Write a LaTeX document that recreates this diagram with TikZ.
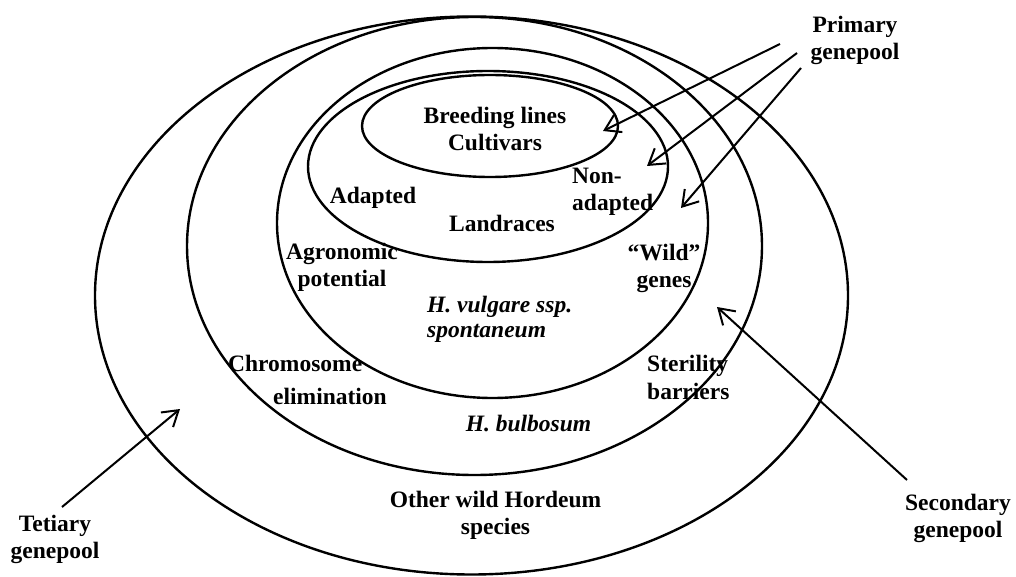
\documentclass[tikz,border=0pt]{standalone}
\usepackage{fontspec}
\setmainfont{Liberation Serif}
\usetikzlibrary{arrows.meta,shapes.geometric}
\begin{document}
\begin{tikzpicture}[x=1pt,y=-1pt,
  lbl/.style={font=\fontsize{23.5}{27}\selectfont\bfseries, inner sep=0pt, align=center},
  lbll/.style={lbl, align=left, anchor=west},
  pool/.style={draw, ellipse, inner sep=0pt, line width=2.4pt},
  arr/.style={line width=2pt, -{Straight Barb[length=15pt,width=19pt]}}]
\fill[white] (0,0) rectangle (1016,577);
\useasboundingbox (0,0) rectangle (1016,577);
% genepool ellipses
\node[pool, minimum width=753pt, minimum height=558pt] (tertiary) at (471.5,295.5) {};
\node[pool, minimum width=575pt, minimum height=458pt] (secondary) at (474.5,246) {};
\node[pool, minimum width=431pt, minimum height=350pt] (primary) at (492.5,223) {};
\node[pool, minimum width=360pt, minimum height=191pt] (landraces) at (488,166.5) {};
\node[pool, minimum width=256pt, minimum height=102pt] (breeding) at (490,126) {};
% labels
\node[lbl] (lprim) at (855,40) {Primary\\genepool};
\node[lbl] (lsec) at (958,518) {Secondary\\genepool};
\node[lbl] (lter) at (55,539.4) {Tetiary\\genepool};
\node[lbl] (tbreed) at (495,128.9) {Breeding lines\\Cultivars};
\node[lbl] (tadapt) at (373,197.5) {Adapted};
\node[lbl] (tland) at (502,223.6) {Landraces};
\node[lbll] (tnon) at (572,192) {Non-\\adapted};
\node[lbl] (tagro) at (342,267.4) {Agronomic\\potential};
\node[lbl] (twild) at (664,268) {“Wild”\\genes};
\node[lbll, font=\fontsize{23.5}{25}\selectfont\bfseries\itshape] (tvulg) at (427,319) {H. vulgare ssp.\\spontaneum};
\node[lbll] (tchrom) at (228,380.4) {Chromosome\\[6pt]\hspace*{45pt}elimination};
\node[lbll, font=\fontsize{23.5}{28}\selectfont\bfseries] (tster) at (647,377) {Sterility\\barriers};
\node[lbl, font=\fontsize{23.5}{27}\selectfont\bfseries\itshape] (tbulb) at (528.5,423.6) {H. bulbosum};
\node[lbl] (tother) at (495.5,515.8) {Other wild Hordeum\\species};
% arrow end points
\coordinate (p1s) at (780,44);  \coordinate (p1e) at (603,131);
\coordinate (p2s) at (797,53);  \coordinate (p2e) at (647,166);
\coordinate (p3s) at (801,68);  \coordinate (p3e) at (681,208);
\coordinate (ss) at (907,480);  \coordinate (se) at (717,307);
\coordinate (ts) at (62,507);   \coordinate (te) at (180,409);
\draw[arr] (p1s) -- (p1e);
\draw[arr] (p2s) -- (p2e);
\draw[arr] (p3s) -- (p3e);
\draw[arr] (ss) -- (se);
\draw[arr] (ts) -- (te);
\end{tikzpicture}
\end{document}
